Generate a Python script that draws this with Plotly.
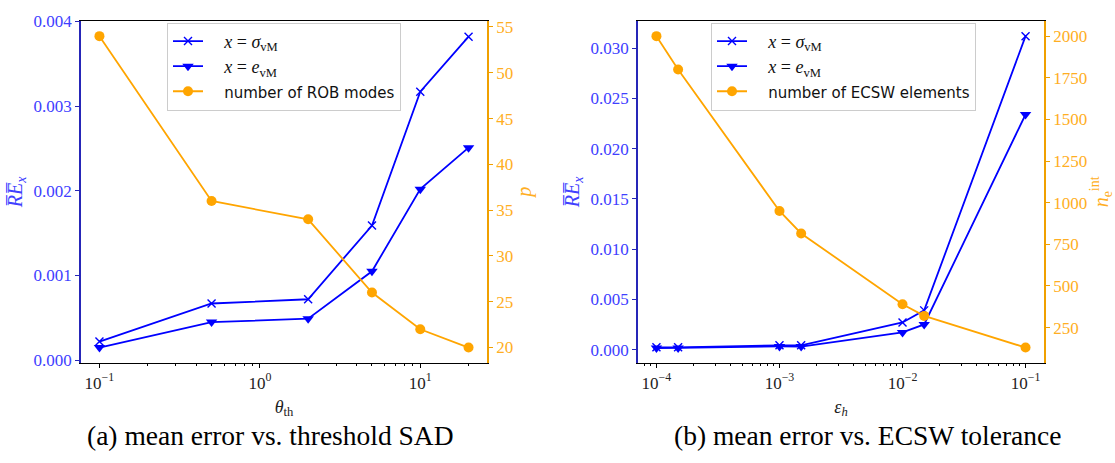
import plotly.graph_objects as go

# (a) error vs. SAD threshold
theta_th = [0.1, 0.5, 2, 5, 10, 20]
re_sigma_a = [0.00022, 0.00067, 0.00072, 0.00159, 0.00317, 0.00382]
re_e_a = [0.00015, 0.00045, 0.00049, 0.00105, 0.00202, 0.00251]
rob_modes = [54, 36, 34, 26, 22, 20]

# (b) error vs. ECSW tolerance
eps_h = [1e-4, 1.5e-4, 1e-3, 1.5e-3, 1e-2, 1.5e-2, 1e-1]
re_sigma_b = [0.00022, 0.00022, 0.00042, 0.00042, 0.0027, 0.0039, 0.0312]
re_e_b = [0.00015, 0.00016, 0.00031, 0.00030, 0.0017, 0.0025, 0.0234]
ecsw_elements = [2000, 1800, 950, 815, 390, 320, 130]

BLUE = "#0000ff"
ORANGE = "#ffa500"
BLUE_TXT = "#4040ff"
ORANGE_TXT = "#ffae22"
SERIF = "Liberation Serif"
SANS = "DejaVu Sans"

W, H = 1115, 463


def px_x(p):
    return p / W


def px_y(p):
    return 1 - p / H


PAD = "&nbsp;&nbsp;&nbsp;"


def math(s):
    return f'{PAD}<span style="font-family:{SERIF};font-size:18px">{s}</span>'


def plain(s):
    return f'{PAD}<span style="font-size:15px">{s}</span>'


LBL_SIG = math("<i>x</i> = <i>σ</i><sub>vM</sub>")
LBL_E = math("<i>x</i> = <i>e</i><sub>vM</sub>")
RE_TITLE = "<i>R̅E̅</i><sub><i>x</i></sub>"

fig = go.Figure()


def add_panel(xs, sig, e, counts, xa, ya, ya2, legend, count_name):
    fig.add_trace(go.Scatter(
        x=xs, y=sig, mode="lines+markers", name=LBL_SIG,
        line=dict(color=BLUE, width=1.8),
        marker=dict(symbol="x-thin", size=8, line=dict(color=BLUE, width=1.4)),
        xaxis=xa, yaxis=ya, legend=legend))
    fig.add_trace(go.Scatter(
        x=xs, y=e, mode="lines+markers", name=LBL_E,
        line=dict(color=BLUE, width=1.8),
        marker=dict(symbol="triangle-down", size=10, color=BLUE),
        xaxis=xa, yaxis=ya, legend=legend))
    fig.add_trace(go.Scatter(
        x=xs, y=counts, mode="lines+markers", name=plain(count_name),
        line=dict(color=ORANGE, width=1.8),
        marker=dict(symbol="circle", size=10, color=ORANGE),
        xaxis=xa, yaxis=ya2, legend=legend))


add_panel(theta_th, re_sigma_a, re_e_a, rob_modes, "x", "y", "y2", "legend",
          "number of ROB modes")
add_panel(eps_h, re_sigma_b, re_e_b, ecsw_elements, "x2", "y3", "y4", "legend2",
          "number of ECSW elements")

minor_a = [v * m for v in (0.1, 1, 10) for m in range(2, 10) if v * m <= 30]
minor_b = [v * m for v in (1e-5, 1e-4, 1e-3, 1e-2, 1e-1) for m in range(2, 10)]


def xaxis(domain, rng, tickvals, ticktext, minor_vals, anchor, title):
    return dict(
        type="log", domain=domain, range=rng, anchor=anchor,
        tickvals=tickvals, ticktext=ticktext,
        showline=True, linecolor="#000000", linewidth=1.2, mirror=True,
        ticks="outside", ticklen=4, tickcolor="#000000", tickwidth=1,
        minor=dict(tickvals=minor_vals, ticks="outside", ticklen=2,
                   tickcolor="#000000", showgrid=False),
        tickfont=dict(family=SERIF, size=17, color="#222222"),
        showgrid=False, zeroline=False,
        title=dict(text=title, font=dict(family=SERIF, size=18, color="#222222"),
                   standoff=8),
    )


def yaxis(domain, anchor, rng, tickvals, color, txt, title, side="left",
          overlay=None, fmt=None, standoff=6):
    d = dict(
        domain=domain, anchor=anchor, range=rng, side=side,
        tickvals=tickvals,
        showline=True, linecolor=color, linewidth=1.5,
        ticks="outside", ticklen=4, tickcolor=color, tickwidth=1,
        tickfont=dict(family=SERIF, size=17, color=txt),
        showgrid=False, zeroline=False,
        title=dict(text=title, font=dict(family=SERIF, size=20, color=txt),
                   standoff=standoff),
    )
    if overlay:
        d["overlaying"] = overlay
    if fmt:
        d["tickformat"] = fmt
    return d


xdom_a = [px_x(81), px_x(487)]
xdom_b = [px_x(638), px_x(1044)]
ydom = [px_y(367), px_y(13)]

legend_style = dict(
    xanchor="left", yanchor="top",
    bgcolor="rgba(255,255,255,0.85)", bordercolor="#cccccc", borderwidth=1,
    font=dict(family=SANS, size=17, color="#111111"),
    tracegroupgap=0,
)

fig.update_layout(
    width=W, height=H,
    margin=dict(l=0, r=0, t=0, b=0),
    paper_bgcolor="white", plot_bgcolor="white",
    showlegend=True,
    xaxis=xaxis(xdom_a, [-1.115, 1.416], [0.1, 1, 10],
                ["10<sup>−1</sup>", "10<sup>0</sup>", "10<sup>1</sup>"],
                minor_a, "y", "<i>θ</i><sub>th</sub>"),
    xaxis2=xaxis(xdom_b, [-4.15, -0.85], [1e-4, 1e-3, 1e-2, 1e-1],
                 ["10<sup>−4</sup>", "10<sup>−3</sup>", "10<sup>−2</sup>", "10<sup>−1</sup>"],
                 minor_b, "y3", "<i>ε</i><sub><i>h</i></sub>"),
    yaxis=yaxis(ydom, "x", [-0.000034, 0.00401], [0, 0.001, 0.002, 0.003, 0.004],
                "#2626b8", BLUE_TXT, RE_TITLE, fmt=".3f"),
    yaxis2=yaxis(ydom, "x", [18.3, 55.7], [20, 25, 30, 35, 40, 45, 50, 55],
                 "#f0a000", ORANGE_TXT, "<i>p</i>", side="right", overlay="y",
                 standoff=5),
    yaxis3=yaxis(ydom, "x2", [-0.00135, 0.03275],
                 [0, 0.005, 0.01, 0.015, 0.02, 0.025, 0.03],
                 "#2626b8", BLUE_TXT, RE_TITLE, fmt=".3f"),
    yaxis4=yaxis(ydom, "x2", [36.5, 2093.5],
                 [250, 500, 750, 1000, 1250, 1500, 1750, 2000],
                 "#f0a000", ORANGE_TXT, "<i>n</i><sub>e</sub><sup>int</sup>",
                 side="right", overlay="y3"),
    legend=dict(x=px_x(167), y=px_y(15), **legend_style),
    legend2=dict(x=px_x(711), y=px_y(15), **legend_style),
)

captions = [
    ("(a) mean error vs. threshold SAD", 270),
    ("(b) mean error vs. ECSW tolerance", 867),
]
for text, cx in captions:
    fig.add_annotation(
        text=text, x=px_x(cx), y=px_y(442), xref="paper", yref="paper",
        xanchor="center", yanchor="middle", showarrow=False,
        font=dict(family=SERIF, size=27.5, color="#000000"),
    )

fig.write_html("out.html")
